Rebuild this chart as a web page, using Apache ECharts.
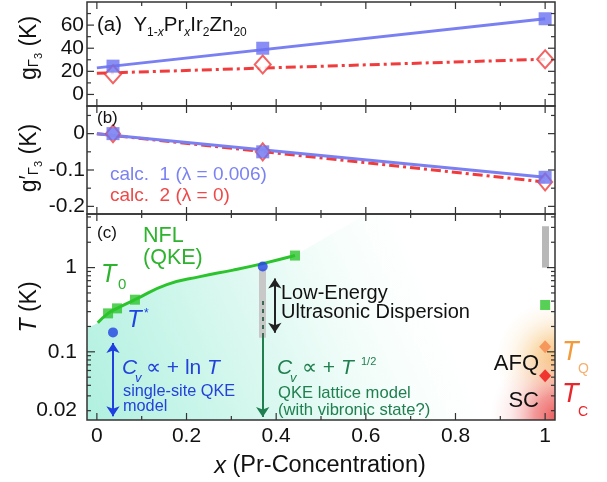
<!DOCTYPE html>
<html>
<head>
<meta charset="utf-8">
<script src="https://cdn.jsdelivr.net/npm/echarts@6.0.0/dist/echarts.min.js"></script>
<style>
html,body{margin:0;padding:0;background:#ffffff;}
#chart{width:607px;height:482px;}
</style>
</head>
<body>
<div id="chart"></div>
<script>
// ===== data =====
const xConc = [0.036, 0.37, 1];
const gCalc1 = [24.5, 40, 65.5];
const gCalc2 = [17.5, 26, 30.5];
const gFitX = [0, 1];
const gFit1Y = [23, 65.5];
const gFit2Y = [18.3, 30.5];
const gpCalc1 = [0, -0.05, -0.12];
const gpCalc2 = [0, -0.05, -0.133];
const gpFit1Y = [0, -0.12];
const gpFit2Y = [0, -0.133];
const t0X = [0.025, 0.045, 0.085, 0.442, 1];
const t0Y = [0.286, 0.328, 0.416, 1.39, 0.36];
const t0CurveX = [0.002, 0.025, 0.045, 0.085, 0.156, 0.23, 0.304, 0.37, 0.442];
const t0CurveY = [0.221, 0.286, 0.328, 0.416, 0.628, 0.782, 0.934, 1.116, 1.39];
const tealLeftEdge = [-0.022, 0.193];
const tealRightEdge = [[0.442, 1.39], [0.6, 4.33], [1.022, 4.33]];
const tStarX = [0.036, 0.37];
const tStarY = [0.17, 1.03];
const tQX = [1], tQY = [0.115];
const tCX = [1], tCY = [0.052];
const grayBar1 = [[0.37, 0.147], [0.37, 0.97]];
const grayBar2 = [[1, 1.0], [1, 3.1]];
const arrowBlue = [[0.036, 0.127], [0.036, 0.0172]];
const arrowBlack = [[0.397, 0.74], [0.397, 0.168]];
const arrowGreenDash = [[0.37, 0.40], [0.37, 0.15]];
const arrowGreen = [[0.37, 0.15], [0.37, 0.0168]];
const glowZone = [[0.7, 0.0155], [1.022, 0.8]];

// ===== ticks =====
const xMajorTicks = [0, 0.2, 0.4, 0.6, 0.8, 1];
const xMinorTicks = [0.1, 0.3, 0.5, 0.7, 0.9];
const xTickLabels = ['0', '0.2', '0.4', '0.6', '0.8', '1'];
const aMajorTicks = [0, 20, 40, 60];
const aMinorTicks = [10, 30, 50, 70];
const aTickLabels = ['0', '20', '40', '60'];
const bMajorTicks = [-0.2, -0.1, 0];
const bMinorTicks = [-0.15, -0.05, 0.05];
const bTickLabels = ['-0.2', '-0.1', '0'];
const cMajorTicks = [0.1, 1];
const cMinorTicks = [0.02,0.03,0.04,0.05,0.06,0.07,0.08,0.09,0.2,0.3,0.4,0.5,0.6,0.7,0.8,0.9,2,3,4];
const cLabelValues = [0.02, 0.1, 1];
const cTickLabels = ['0.02', '0.1', '1'];

// ===== ranges =====
const XMIN = -0.022, XMAX = 1.022;
const A_MIN = -10, A_MAX = 80;
const B_MIN = -0.221, B_MAX = 0.076;
const C_MIN = 0.0155, C_MAX = 4.33;

const FONT = '"Liberation Sans", Arial, Helvetica, sans-serif';
const AX = '#333333';
const BLUE_SQ = '#6a72f0', BLUE_LN = '#7a80f2', RED = '#f03c3c';
const GREEN = '#2cc42c', GREEN_TXT = '#2db32d', DKGREEN = '#1f7f4f';
const TSTAR = '#1f44e4', BLUE_TXT = '#2342dc';
const ORANGE = '#f39a3a', TCRED = '#e8262c';
const TICKFONT = 21;

const pairs = (xs, ys) => xs.map((x, i) => [x, ys[i]]);

function ticksX(gi, vals, len, yRef) {
  return {type:'custom', xAxisIndex:gi, yAxisIndex:gi, clip:false, silent:true, z:20,
    data: vals.map(v => [v, yRef]),
    renderItem: (params, api) => {
      const cs = params.coordSys;
      const x = api.coord([api.value(0), api.value(1)])[0];
      return {type:'group', children:[
        {type:'line', shape:{x1:x, y1:cs.y, x2:x, y2:cs.y+len}, style:{stroke:AX, lineWidth:1.2}},
        {type:'line', shape:{x1:x, y1:cs.y+cs.height, x2:x, y2:cs.y+cs.height-len}, style:{stroke:AX, lineWidth:1.2}}
      ]};
    }};
}
function ticksY(gi, vals, len, xRef) {
  return {type:'custom', xAxisIndex:gi, yAxisIndex:gi, clip:false, silent:true, z:20,
    data: vals.map(v => [xRef, v]),
    renderItem: (params, api) => {
      const cs = params.coordSys;
      const y = api.coord([api.value(0), api.value(1)])[1];
      return {type:'group', children:[
        {type:'line', shape:{x1:cs.x, y1:y, x2:cs.x+len, y2:y}, style:{stroke:AX, lineWidth:1.2}},
        {type:'line', shape:{x1:cs.x+cs.width, y1:y, x2:cs.x+cs.width-len, y2:y}, style:{stroke:AX, lineWidth:1.2}}
      ]};
    }};
}
function labelsY(gi, vals, labels, gap, xRef) {
  return {type:'custom', xAxisIndex:gi, yAxisIndex:gi, clip:false, silent:true, z:20,
    data: vals.map(v => [xRef, v]),
    renderItem: (params, api) => {
      const cs = params.coordSys;
      const y = api.coord([api.value(0), api.value(1)])[1];
      return {type:'text', x: cs.x - gap, y: y, style:{text: labels[params.dataIndex], align:'right', verticalAlign:'middle', fontSize:TICKFONT, fontFamily:FONT, fill:'#111'}};
    }};
}
function labelsX(gi, vals, labels, gap, yRef) {
  return {type:'custom', xAxisIndex:gi, yAxisIndex:gi, clip:false, silent:true, z:20,
    data: vals.map(v => [v, yRef]),
    renderItem: (params, api) => {
      const cs = params.coordSys;
      const x = api.coord([api.value(0), api.value(1)])[0];
      return {type:'text', x: x, y: cs.y + cs.height + gap, style:{text: labels[params.dataIndex], align:'center', verticalAlign:'top', fontSize:TICKFONT, fontFamily:FONT, fill:'#111'}};
    }};
}
function frame(gi, xRef, yRef) {
  return {type:'custom', xAxisIndex:gi, yAxisIndex:gi, clip:false, silent:true, z:21,
    data: [[xRef, yRef]],
    renderItem: (params) => {
      const cs = params.coordSys;
      return {type:'rect', shape:{x:cs.x, y:cs.y, width:cs.width, height:cs.height}, style:{fill:'none', stroke:AX, lineWidth:1.5}};
    }};
}
function zone(gi, corners, fills) {
  return {type:'custom', xAxisIndex:gi, yAxisIndex:gi, clip:true, silent:true, z:2,
    data: [corners[0].concat(corners[1])],
    renderItem: (params, api) => {
      const p0 = api.coord([api.value(0), api.value(1)]);
      const p1 = api.coord([api.value(2), api.value(3)]);
      const shape = {x:Math.min(p0[0],p1[0]), y:Math.min(p0[1],p1[1]), width:Math.abs(p1[0]-p0[0]), height:Math.abs(p1[1]-p0[1])};
      return {type:'group', children: fills.map(f => ({type:'rect', shape:shape, style:{fill:f}}))};
    }};
}

const tealGrad = {type:'linear', x:87, y:420, x2:555, y2:214, global:true, colorStops:[
  {offset:0, color:'#b0f0de'}, {offset:0.2, color:'#c8f5e9'}, {offset:0.4, color:'#e0f9f2'},
  {offset:0.5, color:'#eefcf8'}, {offset:0.6, color:'#f8fefc'}, {offset:0.72, color:'#ffffff'}, {offset:1, color:'#ffffff'}]};
const afqGlow = {type:'radial', x:556, y:360, r:60, global:true, colorStops:[
  {offset:0, color:'rgba(247,190,115,0.95)'}, {offset:0.35, color:'rgba(249,205,145,0.75)'},
  {offset:0.7, color:'rgba(251,225,185,0.3)'}, {offset:1, color:'rgba(252,235,210,0)'}]};
const scGlow = {type:'radial', x:558, y:418, r:68, global:true, colorStops:[
  {offset:0, color:'rgba(234,80,80,0.97)'}, {offset:0.35, color:'rgba(240,125,125,0.78)'},
  {offset:0.7, color:'rgba(246,185,185,0.3)'}, {offset:1, color:'rgba(250,215,215,0)'}]};

const dashDot = [10, 4, 3, 4];

const series = [
  // ---- panel (a) ----
  {type:'line', xAxisIndex:0, yAxisIndex:0, data:pairs(gFitX, gFit2Y), symbol:'none', lineStyle:{color:RED, width:3, type:dashDot}, z:3},
  {type:'line', xAxisIndex:0, yAxisIndex:0, data:pairs(gFitX, gFit1Y), symbol:'none', lineStyle:{color:BLUE_LN, width:3}, z:3},
  {type:'scatter', xAxisIndex:0, yAxisIndex:0, data:pairs(xConc, gCalc2), symbol:'diamond', symbolSize:[16,18], itemStyle:{color:'#ffffff', borderColor:RED, borderWidth:2}, z:4},
  {type:'scatter', xAxisIndex:0, yAxisIndex:0, data:pairs(xConc, gCalc1), symbol:'rect', symbolSize:13, itemStyle:{color:BLUE_SQ}, z:5},
  // ---- panel (b) ----
  {type:'line', xAxisIndex:1, yAxisIndex:1, data:pairs(gFitX, gpFit2Y), symbol:'none', lineStyle:{color:RED, width:3, type:dashDot}, z:3},
  {type:'line', xAxisIndex:1, yAxisIndex:1, data:pairs(gFitX, gpFit1Y), symbol:'none', lineStyle:{color:BLUE_LN, width:3}, z:3},
  {type:'scatter', xAxisIndex:1, yAxisIndex:1, data:pairs(xConc, gpCalc2), symbol:'diamond', symbolSize:[14,17], itemStyle:{color:'#ffffff', borderColor:RED, borderWidth:2}, z:4},
  {type:'scatter', xAxisIndex:1, yAxisIndex:1, data:pairs(xConc, gpCalc1), symbol:'rect', symbolSize:13, itemStyle:{color:BLUE_SQ}, z:5},
  // ---- panel (c) backgrounds ----
  {type:'line', xAxisIndex:2, yAxisIndex:2, data:[tealLeftEdge].concat(pairs(t0CurveX, t0CurveY)), smooth:true, symbol:'none', lineStyle:{width:0}, areaStyle:{origin:'start', color:tealGrad, opacity:1}, z:1, silent:true},
  {type:'line', xAxisIndex:2, yAxisIndex:2, data:tealRightEdge, symbol:'none', lineStyle:{width:0}, areaStyle:{origin:'start', color:tealGrad, opacity:1}, z:1, silent:true},
  zone(2, glowZone, [afqGlow, scGlow]),
  // gray bars
  {type:'scatter', xAxisIndex:2, yAxisIndex:2, data:[], z:3, silent:true,
    markLine:{silent:true, symbol:['none','none'], label:{show:false}, data:[
      [{coord:grayBar1[0], lineStyle:{color:'#c8c8c8', width:7, type:'solid'}}, {coord:grayBar1[1]}],
      [{coord:grayBar2[0], lineStyle:{color:'#b8b8b8', width:7, type:'solid'}}, {coord:grayBar2[1]}]
    ]}},
  // arrows
  {type:'scatter', xAxisIndex:2, yAxisIndex:2, data:[], z:6, silent:true,
    markLine:{silent:true, symbolSize:10, label:{show:false}, data:[
      [{coord:arrowBlue[0], symbol:'arrow', lineStyle:{color:'#1f3fe0', width:2, type:'solid'}}, {coord:arrowBlue[1], symbol:'arrow'}],
      [{coord:arrowBlack[0], symbol:'arrow', lineStyle:{color:'#222222', width:2, type:'solid'}}, {coord:arrowBlack[1], symbol:'arrow'}],
      [{coord:arrowGreenDash[0], symbol:'none', lineStyle:{color:'#3a6a50', width:2, type:[4,4]}}, {coord:arrowGreenDash[1], symbol:'none'}],
      [{coord:arrowGreen[0], symbol:'none', lineStyle:{color:DKGREEN, width:2, type:'solid'}}, {coord:arrowGreen[1], symbol:'arrow'}]
    ]}},
  // T0 curve and points
  {type:'line', xAxisIndex:2, yAxisIndex:2, data:pairs(t0CurveX, t0CurveY), smooth:true, symbol:'none', lineStyle:{color:GREEN, width:3}, z:4},
  {type:'scatter', xAxisIndex:2, yAxisIndex:2, data:pairs(t0X, t0Y), symbol:'rect', symbolSize:10, itemStyle:{color:GREEN}, z:5},
  {type:'scatter', xAxisIndex:2, yAxisIndex:2, data:pairs(tStarX, tStarY), symbol:'circle', symbolSize:10, itemStyle:{color:TSTAR}, z:5},
  {type:'scatter', xAxisIndex:2, yAxisIndex:2, data:pairs(tQX, tQY), symbol:'diamond', symbolSize:[12,13], itemStyle:{color:'#f5874a'}, z:5},
  {type:'scatter', xAxisIndex:2, yAxisIndex:2, data:pairs(tCX, tCY), symbol:'diamond', symbolSize:[12,13], itemStyle:{color:'#ee1010'}, z:5},
  // ---- ticks, labels, frames ----
  ticksX(0, xMajorTicks, 7, 0), ticksX(0, xMinorTicks, 4, 0),
  ticksX(1, xMajorTicks, 7, 0), ticksX(1, xMinorTicks, 4, 0),
  ticksX(2, xMajorTicks, 7, 1), ticksX(2, xMinorTicks, 4, 1),
  ticksY(0, aMajorTicks, 7, 0), ticksY(0, aMinorTicks, 4, 0),
  ticksY(1, bMajorTicks, 7, 0), ticksY(1, bMinorTicks, 4, 0),
  ticksY(2, cMajorTicks, 8, 0), ticksY(2, cMinorTicks, 4, 0),
  labelsY(0, aMajorTicks, aTickLabels, 3, 0),
  labelsY(1, bMajorTicks, bTickLabels, 2, 0),
  labelsY(2, cLabelValues, cTickLabels, 10, 0),
  labelsX(2, xMajorTicks, xTickLabels, 6, 1),
  frame(0, 0, 0), frame(1, 0, 0), frame(2, 0, 1)
];

function txt(x, y, text, size, color, extra, elExtra) {
  return Object.assign({type:'text', x:x, y:y, silent:true, z:100,
    style: Object.assign({text:text, fontSize:size, fontFamily:FONT, fill:color, align:'left', verticalAlign:'middle'}, extra || {})}, elExtra || {});
}

const graphic = [
  // panel (a) title
  txt(97, 25, '(a)  Y{s|1-}{si|x}Pr{si|x}Ir{s|2}Zn{s|20}', 20.5, '#111', {lineHeight:28, rich:{
    s:{fontSize:12, fontFamily:FONT, fill:'#111', verticalAlign:'bottom', lineHeight:12},
    si:{fontSize:12, fontFamily:FONT, fontStyle:'italic', fill:'#111', verticalAlign:'bottom', lineHeight:12}}}),
  txt(97, 118, '(b)', 17, '#111'),
  txt(110, 175, 'calc.  1 (\u03bb = 0.006)', 19, '#7b82f2'),
  txt(110, 196, 'calc.  2 (\u03bb = 0)', 19, '#f04848'),
  txt(97, 233, '(c)', 17, '#111'),
  txt(143, 236, 'NFL', 21.5, GREEN_TXT),
  txt(143, 258, '(QKE)', 21.5, GREEN_TXT),
  txt(101, 275, 'T', 25, GREEN_TXT, {fontStyle:'italic'}),
  txt(118, 285, '0', 15, GREEN_TXT),
  txt(127, 320, 'T', 24, TSTAR, {fontStyle:'italic'}),
  txt(144, 314, '*', 12, TSTAR),
  txt(122, 368, 'C', 21, BLUE_TXT, {fontStyle:'italic'}),
  txt(135, 378, 'v', 13, BLUE_TXT, {fontStyle:'italic'}),
  txt(146, 368, '\u221d + ln {i|T}', 21, BLUE_TXT, {rich:{i:{fontSize:21, fontFamily:FONT, fontStyle:'italic', fill:BLUE_TXT}}}),
  txt(123, 392, 'single-site QKE', 16.3, BLUE_TXT),
  txt(123, 407, 'model', 16.3, BLUE_TXT),
  txt(281, 293, 'Low-Energy', 20, '#111'),
  txt(281, 312, 'Ultrasonic Dispersion', 20, '#111'),
  txt(277, 368, 'C', 21, DKGREEN, {fontStyle:'italic'}),
  txt(290, 378, 'v', 13, DKGREEN, {fontStyle:'italic'}),
  txt(302, 368, '\u221d + {i|T}', 21, DKGREEN, {rich:{i:{fontSize:21, fontFamily:FONT, fontStyle:'italic', fill:DKGREEN}}}),
  txt(361, 362, '1/2', 11, DKGREEN),
  txt(278, 393, 'QKE lattice model', 16.6, DKGREEN),
  txt(278, 410, '(with vibronic state?)', 16.6, DKGREEN),
  txt(539, 364, 'AFQ', 22, '#111', {align:'right'}),
  txt(539, 401, 'SC', 22, '#111', {align:'right'}),
  txt(562, 352, 'T', 27, ORANGE, {fontStyle:'italic'}),
  txt(578, 369, 'Q', 14, '#f5b070'),
  txt(562, 394, 'T', 27, TCRED, {fontStyle:'italic'}),
  txt(578, 412, 'C', 14, TCRED),
  // axis names
  txt(30, 48, 'g{s|\u0393}{ss|3} (K)', 23, '#111', {align:'center', lineHeight:28, rich:{
    s:{fontSize:15, fontFamily:FONT, fill:'#111', verticalAlign:'bottom', lineHeight:15, padding:[0,0,3,0]},
    ss:{fontSize:11, fontFamily:FONT, fill:'#111', verticalAlign:'bottom', lineHeight:11}}}, {rotation:Math.PI/2}),
  txt(30, 158, 'g\u2032{s|\u0393}{ss|3} (K)', 23, '#111', {align:'center', lineHeight:28, rich:{
    s:{fontSize:15, fontFamily:FONT, fill:'#111', verticalAlign:'bottom', lineHeight:15, padding:[0,0,3,0]},
    ss:{fontSize:11, fontFamily:FONT, fill:'#111', verticalAlign:'bottom', lineHeight:11}}}, {rotation:Math.PI/2}),
  txt(30, 307, '{i|T} (K)', 23, '#111', {align:'center', rich:{i:{fontSize:23, fontFamily:FONT, fontStyle:'italic', fill:'#111'}}}, {rotation:Math.PI/2}),
  txt(320, 466, '{i|x} (Pr-Concentration)', 23.5, '#111', {align:'center', rich:{i:{fontSize:23.5, fontFamily:FONT, fontStyle:'italic', fill:'#111'}}})
];

const option = {
  animation: false,
  backgroundColor: '#ffffff',
  textStyle: {fontFamily: FONT},
  grid: [
    {left:87, top:2, width:468, height:104, show:false},
    {left:87, top:106, width:468, height:108, show:false},
    {left:87, top:214, width:468, height:206, show:false}
  ],
  xAxis: [0,1,2].map(i => ({type:'value', gridIndex:i, min:XMIN, max:XMAX, show:false})),
  yAxis: [
    {type:'value', gridIndex:0, min:A_MIN, max:A_MAX, show:false},
    {type:'value', gridIndex:1, min:B_MIN, max:B_MAX, show:false},
    {type:'log', gridIndex:2, min:C_MIN, max:C_MAX, logBase:10, show:false}
  ],
  series: series,
  graphic: graphic
};

const chart = echarts.init(document.getElementById('chart'), null, {renderer:'canvas'});
chart.setOption(option);
</script>
</body>
</html>
